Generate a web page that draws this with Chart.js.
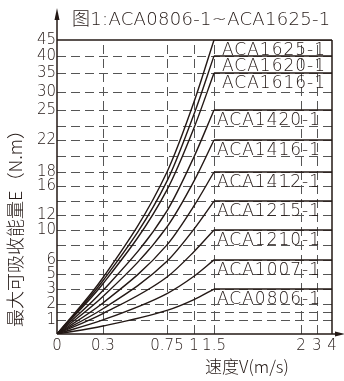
<!DOCTYPE html>
<html>
<head>
<meta charset="utf-8">
<script src="https://cdn.jsdelivr.net/npm/chart.js@4.4.0/dist/chart.umd.min.js"></script>
<style>
  html, body { margin: 0; padding: 0; background: #fff; }
  #wrap { width: 344px; height: 381px; }
</style>
</head>
<body>
<div id="wrap"><canvas id="energyChart" width="344" height="381"></canvas></div>
<script>
const speedTicks = [0, 0.3, 0.75, 1, 1.5, 2, 3, 4];
const speedLabels = ['0', '0.3', '0.75', '1', '1.5', '2', '3', '4'];
const energyTicks = [0, 1, 1.5, 2, 3, 5, 6, 8, 10, 12, 14, 16, 18, 20, 22, 23.5, 25, 30, 35, 40, 45];
const energyLabels = ['', '1', '', '2', '3', '5', '6', '', '10', '12', '', '16', '18', '', '22', '', '25', '30', '35', '40', '45'];

const models = ['ACA1625-1', 'ACA1620-1', 'ACA1616-1', 'ACA1420-1', 'ACA1416-1',
                'ACA1412-1', 'ACA1215-1', 'ACA1210-1', 'ACA1007-1', 'ACA0806-1'];
const maxEnergy = [45, 40, 35, 25, 22, 18, 14, 10, 6, 3];

// energy read at v = 0, 0.3, 0.75, 1, 1.5
const curveSpeeds = [0, 0.3, 0.75, 1, 1.5];
const aca1625 = [0, 4.5, 18, 27.2, 45];
const aca1620 = [0, 4.1, 16.7, 24.6, 40];
const aca1616 = [0, 3.7, 15.5, 23.3, 35];
const aca1420 = [0, 2.9, 12.6, 19.9, 25];
const aca1416 = [0, 2.5, 10.4, 16.7, 22];
const aca1412 = [0, 2.07, 8, 13.3, 18];
const aca1215 = [0, 1.7, 5.9, 10.1, 14];
const aca1210 = [0, 1.4, 4.6, 7.1, 10];
const aca1007 = [0, 1.0, 2.7, 4.7, 6];
const aca0806 = [0, 0.57, 1.6, 2.3, 3];
const curves = [aca1625, aca1620, aca1616, aca1420, aca1416, aca1412, aca1215, aca1210, aca1007, aca0806];

const ink = '#231815';

// the printed chart is not to scale: each grid value sits at its own place along the axis (0..1)
const xStops = [0, 0.167, 0.4, 0.498, 0.571, 0.887, 0.945, 1];
const yStops = [0, 0.048, 0.075, 0.102, 0.153, 0.204, 0.252, 0.303, 0.354, 0.405, 0.452,
                0.503, 0.551, 0.605, 0.660, 0.707, 0.762, 0.823, 0.888, 0.946, 1];
const stopsFor = { x: [speedTicks, xStops], y: [energyTicks, yStops] };

class StopScale extends Chart.LinearScale {
  toDecimal(value) {
    const [vals, pos] = stopsFor[this.axis];
    if (value <= vals[0]) return pos[0];
    for (let i = 1; i < vals.length; i++) {
      if (value <= vals[i]) {
        const t = (value - vals[i - 1]) / (vals[i] - vals[i - 1]);
        return pos[i - 1] + t * (pos[i] - pos[i - 1]);
      }
    }
    return pos[pos.length - 1];
  }
  getPixelForValue(value) {
    if (value === null || value === undefined) return NaN;
    return this.getPixelForDecimal(this.toDecimal(value));
  }
  getValueForPixel(pixel) {
    const [vals, pos] = stopsFor[this.axis];
    const d = this.getDecimalForPixel(pixel);
    for (let i = 1; i < pos.length; i++) {
      if (d <= pos[i]) {
        const t = (d - pos[i - 1]) / (pos[i] - pos[i - 1]);
        return vals[i - 1] + t * (vals[i] - vals[i - 1]);
      }
    }
    return vals[vals.length - 1];
  }
}
StopScale.id = 'stops';
StopScale.defaults = Chart.LinearScale.defaults;
Chart.register(StopScale);

const datasets = [];
models.forEach((name, i) => {
  datasets.push({
    label: name,
    data: curveSpeeds.map((v, j) => ({ x: v, y: curves[i][j] })),
    borderColor: ink,
    borderWidth: 1.4,
    pointRadius: 0,
    cubicInterpolationMode: 'monotone'
  });
  datasets.push({
    label: name + ' max',
    data: [{ x: 1.5, y: maxEnergy[i] }, { x: 4, y: maxEnergy[i] }],
    borderColor: ink,
    borderWidth: 1.5,
    pointRadius: 0
  });
});

function line(ctx, x1, y1, x2, y2) {
  ctx.beginPath();
  ctx.moveTo(x1, y1);
  ctx.lineTo(x2, y2);
  ctx.stroke();
}

const framePlugin = {
  id: 'frame',
  beforeDatasetsDraw(chart) {
    const { ctx, chartArea: a, scales: { x, y } } = chart;
    ctx.save();
    ctx.strokeStyle = '#555';
    ctx.lineWidth = 1;
    ctx.setLineDash([9, 5]);
    energyTicks.forEach(v => {
      if (v === 0 || v === 45) return;
      const py = Math.round(y.getPixelForValue(v)) + 0.5;
      line(ctx, a.left, py, a.right, py);
    });
    speedTicks.forEach(v => {
      if (v === 0 || v === 4) return;
      const px = Math.round(x.getPixelForValue(v)) + 0.5;
      line(ctx, px, a.bottom, px, a.top);
    });
    ctx.setLineDash([]);
    ctx.strokeStyle = ink;
    ctx.lineWidth = 1.5;
    const top = y.getPixelForValue(45);
    const right = x.getPixelForValue(4);
    line(ctx, a.left, top, right, top);
    line(ctx, right, top, right, a.bottom);
    // axes with arrows
    line(ctx, a.left, a.bottom, a.left, 16);
    line(ctx, a.left, a.bottom, 339, a.bottom);
    ctx.fillStyle = ink;
    ctx.beginPath();
    ctx.moveTo(a.left, 8);
    ctx.lineTo(a.left - 2.5, 20);
    ctx.lineTo(a.left + 2.5, 20);
    ctx.closePath();
    ctx.fill();
    ctx.beginPath();
    ctx.moveTo(345, a.bottom);
    ctx.lineTo(335, a.bottom - 2.5);
    ctx.lineTo(335, a.bottom + 2.5);
    ctx.closePath();
    ctx.fill();
    ctx.restore();
  },
  afterDatasetsDraw(chart) {
    const { ctx, scales: { x, y } } = chart;
    ctx.save();
    ctx.fillStyle = ink;
    ctx.font = '200 17px "DejaVu Sans"';
    ctx.letterSpacing = '1px';
    ctx.textAlign = 'left';
    ctx.textBaseline = 'alphabetic';
    const lx = x.getPixelForValue(1.5) + 3;
    models.forEach((name, i) => {
      ctx.fillText(name, lx + (i < 3 ? 5 : 0), y.getPixelForValue(maxEnergy[i]) + 15);
    });
    ctx.font = '200 18px "DejaVu Sans", "Noto Sans CJK SC"';
    ctx.letterSpacing = '0.3px';
    ctx.fillText('图1:ACA0806-1~ACA1625-1', 72, 25);
    ctx.letterSpacing = '0px';
    ctx.font = '300 17px "Noto Sans CJK SC"';
    ctx.textAlign = 'center';
    ctx.fillText('速度V(m/s)', 247, 373);
    ctx.translate(22, 224);
    ctx.rotate(-Math.PI / 2);
    ctx.font = '300 18px "Noto Sans CJK SC"';
    ctx.fillText('最大可吸收能量E（N.m）', 0, 0);
    ctx.restore();
  }
};

new Chart(document.getElementById('energyChart'), {
  type: 'line',
  data: { datasets: datasets },
  options: {
    responsive: false,
    devicePixelRatio: 1,
    animation: false,
    layout: { padding: { top: 40, right: 12, bottom: 0, left: 0 } },
    plugins: { legend: { display: false }, tooltip: { enabled: false } },
    scales: {
      x: {
        type: 'stops',
        min: 0,
        max: 4,
        grid: { display: false, drawTicks: false },
        border: { display: false },
        afterFit: s => { s.height = 47; },
        afterBuildTicks: s => { s.ticks = speedTicks.map(v => ({ value: v })); },
        ticks: {
          autoSkip: false,
          maxRotation: 0,
          padding: 3,
          color: ink,
          font: { family: 'DejaVu Sans', size: 15, weight: '200' },
          callback: (v, i) => speedLabels[i]
        }
      },
      y: {
        type: 'stops',
        min: 0,
        max: 45,
        grid: { display: false, drawTicks: false },
        border: { display: false },
        afterFit: s => { s.width = 57; },
        afterBuildTicks: s => { s.ticks = energyTicks.map(v => ({ value: v })); },
        ticks: {
          autoSkip: false,
          padding: 1,
          color: ink,
          font: { family: 'DejaVu Sans', size: 15, weight: '200' },
          callback: (v, i) => energyLabels[i]
        }
      }
    }
  },
  plugins: [framePlugin]
});
</script>
</body>
</html>
